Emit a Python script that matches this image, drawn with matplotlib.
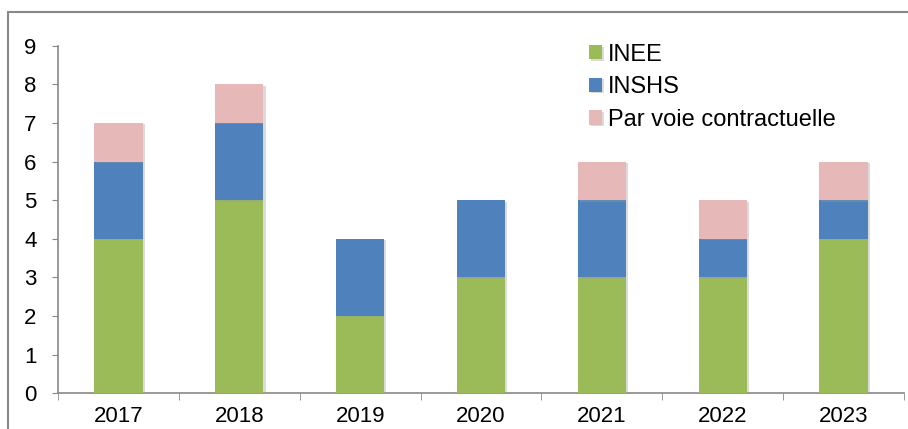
import matplotlib
matplotlib.use("Agg")
import matplotlib.pyplot as plt
import matplotlib.patheffects as pe
from matplotlib.patches import Rectangle
import numpy as np

plt.rcParams['font.family'] = ['Liberation Sans', 'DejaVu Sans']

years = ['2017', '2018', '2019', '2020', '2021', '2022', '2023']
inee = [4, 5, 2, 3, 3, 3, 4]
inshs = [2, 2, 2, 2, 2, 1, 1]
contract = [1, 1, 0, 0, 1, 1, 1]
series_labels = ['INEE', 'INSHS', 'Par voie contractuelle']
colors = ['#9BBB59', '#4F81BD', '#E6B9B8']

W, H = 908, 429
fig = plt.figure(figsize=(W / 100, H / 100), dpi=100)
ax = fig.add_axes([58 / W, 1 - 393.3 / H, (904 - 58) / W, (393.3 - 45.7) / H])

x = np.arange(len(years))
bw = 0.4
shadow = [pe.SimplePatchShadow(offset=(1.5, -1), shadow_rgbFace='#999999', alpha=0.35), pe.Normal()]
bottom = np.zeros(len(years))
for vals, lab, col in zip([inee, inshs, contract], series_labels, colors):
    bars = ax.bar(x, vals, bw, bottom=bottom, color=col, label=lab, edgecolor='none', zorder=3)
    for b in bars:
        b.set_path_effects(shadow)
    bottom += np.array(vals)

ax.set_xlim(-0.5, len(years) - 0.5)
ax.set_ylim(0, 9)
ax.set_yticks(range(0, 10))
ax.set_xticks(x)
ax.set_xticklabels(years)
ax.set_xticks(np.arange(-0.5, len(years)), minor=True)
ax.tick_params(axis='x', which='major', length=0, labelsize=16, pad=9)
ax.tick_params(axis='x', which='minor', length=5, color='#888888', direction='out')
ax.tick_params(axis='y', length=4.5, color='#888888', direction='out', labelsize=16, pad=11)
for s in ['top', 'right']:
    ax.spines[s].set_visible(False)
for s in ['left', 'bottom']:
    ax.spines[s].set_color('#888888')
    ax.spines[s].set_linewidth(1.2)

leg = ax.legend(loc='upper left', bbox_to_anchor=((577 - 58) / (904 - 58), 1.04),
                frameon=False, fontsize=17, handlelength=0.55, handleheight=0.55,
                handletextpad=0.25, labelspacing=0.45, borderpad=0)

# outer frame
fig.patches.append(Rectangle((7.5 / W, -0.1), 1.0, 1 - 11.5 / H + 0.1, transform=fig.transFigure,
                             fill=False, edgecolor='#888888', linewidth=1.5))

fig.savefig('out.png', dpi=100)
